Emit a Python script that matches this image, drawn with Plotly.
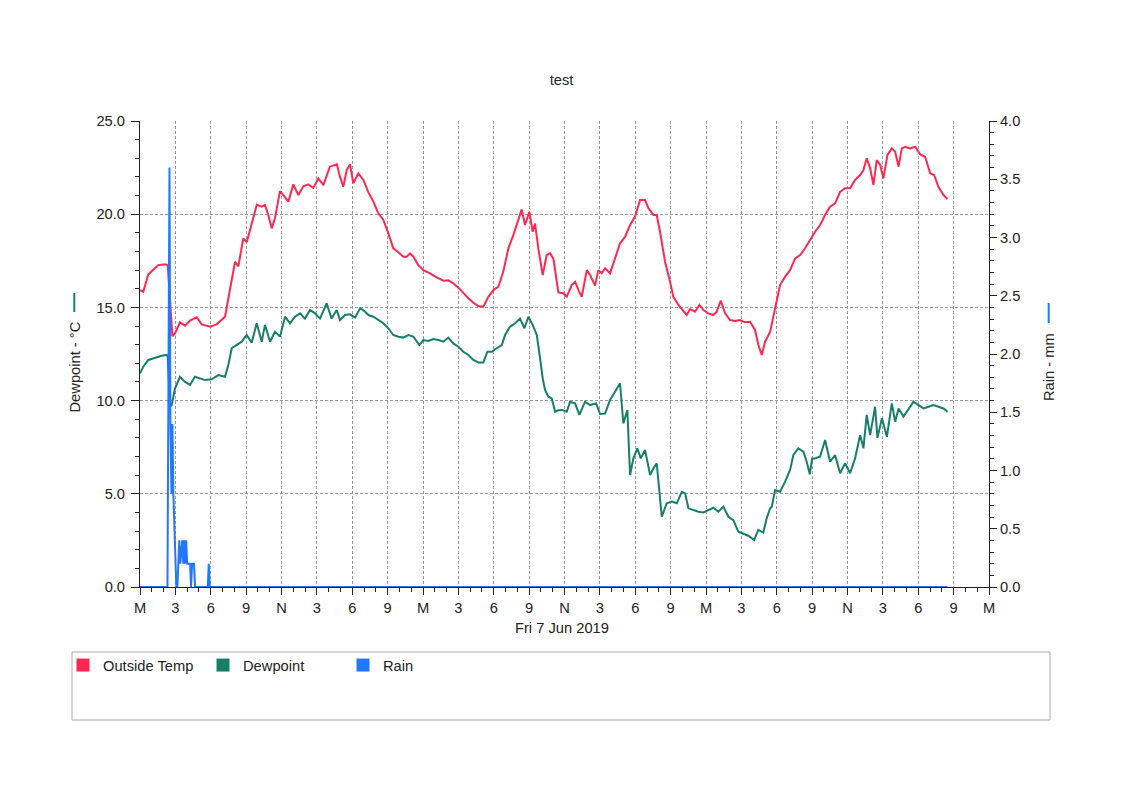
import pandas as pd
import plotly.graph_objects as go

START = pd.Timestamp("2019-06-06 00:00")

# ---- data (hours since start, value) ----
temp_hours = [0.0, 0.28, 0.7, 1.13, 1.55, 1.98, 2.26, 2.35, 2.75, 2.97, 3.39, 3.82, 4.24, 4.81, 5.23,
              5.94, 6.5, 7.21, 7.63, 8.06, 8.34, 8.76, 9.05, 9.47, 9.9, 10.32, 10.6, 10.88, 11.17,
              11.45, 11.87, 12.3, 12.58, 13.0, 13.43, 13.85, 14.28, 14.7, 15.12, 15.55, 16.1, 16.7,
              16.96, 17.24, 17.53, 17.81, 18.09, 18.52, 18.94, 19.37, 19.79, 20.21, 20.64, 21.06,
              21.48, 21.91, 22.33, 22.62, 22.9, 23.18, 23.6, 24.03, 24.6, 25.16, 25.73, 26.15,
              26.57, 27.0, 27.42, 27.85, 28.27, 28.69, 29.12, 29.54, 29.97, 30.39, 30.81, 31.24,
              31.66, 32.09, 32.37, 32.65, 33.02, 33.3, 33.5, 33.78, 34.15, 34.49, 34.78, 35.06,
              35.3, 35.48, 35.9, 36.19, 36.61, 36.9, 37.2, 37.46, 37.89, 38.17, 38.59, 38.87,
              39.16, 39.44, 39.86, 40.29, 40.71, 41.14, 41.56, 41.98, 42.41, 42.83, 43.12, 43.54,
              43.82, 44.1, 44.53, 44.95, 45.23, 45.66, 46.08, 46.36, 46.65, 47.07, 47.44, 47.78,
              48.2, 48.62, 48.91, 49.25, 49.62, 50.04, 50.47, 50.89, 51.31, 51.74, 52.16, 52.44,
              52.73, 53.01, 53.44, 53.86, 54.28, 54.71, 55.13, 55.56, 55.98, 56.4, 56.83, 57.25,
              57.68, 58.1, 58.52, 58.95, 59.37, 59.8, 60.22, 60.64, 61.07, 61.35, 61.63, 61.92,
              62.2, 62.48, 62.77, 63.05, 63.39, 63.76, 64.04, 64.33, 64.61, 64.89, 65.31, 65.74,
              66.16, 66.58, 67.01, 67.35, 67.71, 68.14, 68.48]
temp_values = [15.93, 15.84, 16.77, 17.0, 17.27, 17.3, 17.3, 17.25, 13.45, 13.6, 14.2, 14.02, 14.29,
               14.47, 14.09, 13.97, 14.09, 14.5, 16.0, 17.45, 17.2, 18.7, 18.5, 19.5, 20.5, 20.4,
               20.5, 19.96, 19.24, 19.8, 21.24, 20.9, 20.67, 21.6, 21.03, 21.5, 21.6, 21.4, 21.92,
               21.56, 22.55, 22.68, 22.0, 21.47, 22.37, 22.68, 21.66, 22.19, 21.84, 21.17, 20.67,
               20.05, 19.69, 18.97, 18.17, 17.96, 17.72, 17.72, 17.9, 17.72, 17.27, 17.0, 16.83,
               16.61, 16.43, 16.45, 16.29, 16.06, 15.76, 15.49, 15.25, 15.07, 15.04, 15.57, 15.93,
               16.11, 16.92, 18.17, 18.88, 19.78, 20.26, 19.42, 20.13, 19.06, 19.5, 18.17, 16.74,
               17.81, 17.9, 17.6, 16.5, 15.8, 15.76, 15.57, 16.2, 16.38, 15.9, 15.57, 17.0, 16.74,
               16.17, 17.0, 16.83, 17.1, 16.83, 17.63, 18.44, 18.79, 19.42, 19.87, 20.76, 20.76,
               20.32, 19.96, 19.96, 19.06, 17.45, 16.38, 15.57, 15.13, 14.77, 14.59, 14.91, 14.77,
               15.13, 14.86, 14.68, 14.59, 14.77, 15.36, 14.68, 14.32, 14.27, 14.32, 14.2, 14.23,
               13.79, 12.98, 12.45, 13.16, 13.7, 14.95, 16.2, 16.65, 17.0, 17.63, 17.81, 18.17,
               18.62, 19.06, 19.42, 19.96, 20.4, 20.58, 21.2, 21.39, 21.39, 21.84, 22.1, 22.37,
               23.0, 22.46, 21.57, 22.9, 22.64, 21.92, 23.18, 23.53, 23.35, 22.55, 23.53, 23.62,
               23.53, 23.62, 23.21, 23.08, 22.19, 22.1, 21.47, 21.03, 20.82]

dew_hours = [0.0, 0.28, 0.7, 1.27, 1.84, 2.26, 2.35, 2.54, 2.69, 2.97, 3.39, 3.82, 4.24, 4.66, 5.09,
             5.51, 6.08, 6.64, 7.21, 7.49, 7.78, 8.2, 8.63, 9.05, 9.47, 9.9, 10.32, 10.6, 11.03,
             11.45, 11.87, 12.3, 12.72, 13.14, 13.57, 13.99, 14.42, 14.84, 15.27, 15.83, 16.25,
             16.68, 16.96, 17.39, 17.81, 18.24, 18.66, 18.94, 19.37, 19.79, 20.21, 20.64, 21.06,
             21.48, 21.91, 22.33, 22.76, 23.18, 23.69, 24.03, 24.45, 24.88, 25.3, 25.73, 26.15,
             26.57, 27.0, 27.42, 27.85, 28.27, 28.69, 29.12, 29.46, 29.83, 30.25, 30.68, 30.96,
             31.38, 31.81, 32.23, 32.6, 32.94, 33.3, 33.65, 33.93, 34.15, 34.35, 34.63, 34.92,
             35.2, 35.48, 35.77, 36.19, 36.47, 36.9, 37.26, 37.74, 38.17, 38.68, 39.02, 39.44,
             39.86, 40.29, 40.71, 40.99, 41.33, 41.56, 41.84, 42.18, 42.47, 42.83, 43.26, 43.54,
             43.82, 44.25, 44.67, 45.1, 45.52, 45.95, 46.23, 46.51, 46.93, 47.36, 47.78, 48.2,
             48.62, 49.05, 49.47, 49.9, 50.32, 50.74, 51.17, 51.59, 52.08, 52.44, 52.86, 53.15,
             53.44, 53.58, 53.86, 54.28, 54.71, 55.13, 55.41, 55.83, 56.26, 56.54, 56.8, 57.0,
             57.25, 57.68, 58.1, 58.52, 58.95, 59.37, 59.8, 60.22, 60.64, 61.07, 61.35, 61.63,
             61.92, 62.34, 62.54, 62.92, 63.34, 63.76, 64.04, 64.33, 64.75, 65.18, 65.6, 66.02,
             66.45, 66.87, 67.29, 67.71, 68.14, 68.48]
dew_values = [11.46, 11.82, 12.18, 12.3, 12.41, 12.45, 12.4, 9.67, 9.76, 10.66, 11.28, 11.0, 10.84,
              11.28, 11.2, 11.1, 11.14, 11.37, 11.28, 11.91, 12.81, 12.98, 13.16, 13.52, 13.1,
              14.15, 13.16, 14.06, 13.16, 13.7, 13.43, 14.5, 14.15, 14.5, 14.68, 14.4, 14.86,
              14.68, 14.4, 15.22, 14.4, 14.86, 14.32, 14.59, 14.63, 14.45, 14.95, 14.86, 14.59,
              14.5, 14.32, 14.15, 13.88, 13.52, 13.43, 13.38, 13.52, 13.43, 12.98, 13.25, 13.2,
              13.3, 13.25, 13.16, 13.38, 13.07, 12.89, 12.62, 12.45, 12.18, 12.05, 12.05, 12.62,
              12.62, 12.81, 12.98, 13.52, 13.97, 14.15, 14.4, 13.88, 14.5, 14.06, 13.52, 12.27,
              11.2, 10.57, 10.21, 10.12, 9.4, 9.48, 9.5, 9.4, 9.94, 9.85, 9.23, 9.94, 9.76, 9.85,
              9.28, 9.3, 10.03, 10.48, 10.93, 8.78, 9.5, 6.01, 6.9, 7.44, 6.9, 7.35, 6.01, 6.37,
              6.64, 3.77, 4.49, 4.58, 4.49, 5.11, 5.02, 4.22, 4.13, 4.04, 4.0, 4.13, 4.25, 4.04,
              4.31, 3.77, 3.59, 2.97, 2.88, 2.75, 2.52, 3.06, 2.92, 3.7, 4.22, 4.31, 5.2, 5.11,
              5.65, 6.28, 7.08, 7.44, 7.26, 6.72, 6.05, 6.9, 6.9, 7.0, 7.89, 6.72, 7.08, 6.1, 6.64,
              6.1, 6.9, 8.15, 7.44, 9.23, 8.15, 9.67, 8.0, 9.05, 8.06, 9.85, 8.87, 9.58, 9.14,
              9.58, 9.94, 9.76, 9.58, 9.67, 9.76, 9.67, 9.58, 9.4]

rain_hours = [0.0, 2.33, 2.5, 2.58, 2.67, 2.75, 2.83, 3.08, 3.17, 3.33, 3.42, 3.58, 3.67, 3.75,
              3.83, 3.92, 4.0, 4.08, 4.25, 4.33, 4.42, 4.58, 4.67, 5.75, 5.83, 5.92, 68.48]
rain_values = [0, 0, 3.6, 1.4, 0.8, 1.4, 0.8, 0, 0, 0.4, 0.2, 0.4, 0.2, 0.4,
               0.2, 0.4, 0.2, 0.2, 0.2, 0.0, 0.2, 0.2, 0, 0, 0.2, 0, 0]

x_tick_hours = list(range(0, 73, 3))
x_tick_labels = ["M", "3", "6", "9", "N", "3", "6", "9",
                 "M", "3", "6", "9", "N", "3", "6", "9",
                 "M", "3", "6", "9", "N", "3", "6", "9", "M"]

RED = "#ff2950"
GREEN = "#177f69"
BLUE = "#2277ff"
FONT = "Liberation Sans, Arial, sans-serif"
FS = 14.7


def to_time(hours):
    return list(START + pd.to_timedelta(hours, unit="h"))


fig = go.Figure()
fig.add_trace(go.Scatter(x=to_time(temp_hours), y=temp_values, mode="lines", name="Outside Temp",
                         line=dict(color=RED, width=2), showlegend=False, legendgroup="t"))
fig.add_trace(go.Scatter(x=to_time(dew_hours), y=dew_values, mode="lines", name="Dewpoint",
                         line=dict(color=GREEN, width=2), showlegend=False, legendgroup="d"))
fig.add_trace(go.Scatter(x=to_time(rain_hours), y=rain_values, mode="lines", name="Rain",
                         line=dict(color=BLUE, width=2), yaxis="y2", showlegend=False,
                         legendgroup="r"))
# legend entries with square swatches
for nm, col, grp in [("Outside Temp", RED, "t"), ("Dewpoint", GREEN, "d"), ("Rain", BLUE, "r")]:
    fig.add_trace(go.Scatter(x=[None], y=[None], mode="markers", name=nm, legendgroup=grp,
                             marker=dict(symbol="square", size=13, color=col, line=dict(width=0))))

grid = dict(showgrid=True, gridcolor="#9a9a9a", gridwidth=1, griddash="3px,2px")

fig.update_layout(
    width=1123, height=794,
    margin=dict(l=140, r=134, t=121, b=207),
    paper_bgcolor="white", plot_bgcolor="white",
    font=dict(family=FONT, size=FS, color="#222"),
    title=dict(text="test", x=0.4965, xref="paper", xanchor="center",
               y=1 - 80 / 794, yref="container", yanchor="middle",
               font=dict(family=FONT, size=FS, color="#222")),
    xaxis=dict(
        type="date",
        range=[START, START + pd.Timedelta(hours=72)],
        tickmode="array",
        tickvals=to_time(x_tick_hours),
        ticktext=x_tick_labels,
        ticks="outside", ticklen=7, tickcolor="#222", tickwidth=1,
        showline=True, linecolor="#222", linewidth=1,
        minor=dict(tickmode="linear", tick0=START, dtick=3600000, ticks="outside",
                   ticklen=4, tickcolor="#222", showgrid=False),
        zeroline=False,
        **grid,
    ),
    yaxis=dict(
        range=[0, 25], tick0=0, dtick=5, tickformat=".1f",
        ticks="outside", ticklen=8, tickcolor="#222", ticklabelstandoff=3,
        showline=True, linecolor="#222", linewidth=1,
        minor=dict(dtick=1, ticks="outside", ticklen=4, tickcolor="#222", showgrid=False),
        zeroline=False,
        **grid,
    ),
    yaxis2=dict(
        range=[0, 4], tick0=0, dtick=0.5, tickformat=".1f",
        overlaying="y", side="right",
        ticks="outside", ticklen=7, tickcolor="#222",
        showline=True, linecolor="#222", linewidth=1,
        minor=dict(dtick=0.1, ticks="outside", ticklen=4, tickcolor="#222", showgrid=False),
        showgrid=False, zeroline=False,
    ),
    legend=dict(
        orientation="h", x=(63 - 140) / 849, xanchor="left",
        y=(587 - 649) / 466, yanchor="top",
        bgcolor="rgba(0,0,0,0)", borderwidth=0,
        entrywidth=95, entrywidthmode="pixels",
        itemsizing="trace", font=dict(family=FONT, size=FS, color="#222"),
        traceorder="normal",
    ),
    showlegend=True,
)

# legend frame
fig.add_shape(type="rect", xref="paper", yref="paper",
              x0=(72 - 140) / 849, x1=(1050 - 140) / 849,
              y0=(587 - 652) / 466, y1=(587 - 720) / 466,
              line=dict(color="#aaaaaa", width=1), fillcolor="rgba(0,0,0,0)", layer="below")

# axis titles
fig.add_annotation(text="Dewpoint - °C", xref="paper", yref="paper",
                   x=(74 - 140) / 849, y=(587 - 367.5) / 466, textangle=-90,
                   showarrow=False, xanchor="center", yanchor="middle",
                   font=dict(family=FONT, size=FS, color="#222"))
fig.add_shape(type="line", xref="paper", yref="paper",
              x0=(74.3 - 140) / 849, x1=(74.3 - 140) / 849,
              y0=(587 - 293) / 466, y1=(587 - 312) / 466,
              line=dict(color=GREEN, width=2))
fig.add_annotation(text="Rain - mm", xref="paper", yref="paper",
                   x=(1048.5 - 140) / 849, y=(587 - 367.5) / 466, textangle=-90,
                   showarrow=False, xanchor="center", yanchor="middle",
                   font=dict(family=FONT, size=FS, color="#222"))
fig.add_shape(type="line", xref="paper", yref="paper",
              x0=(1048.7 - 140) / 849, x1=(1048.7 - 140) / 849,
              y0=(587 - 303) / 466, y1=(587 - 323) / 466,
              line=dict(color=BLUE, width=2))
fig.add_annotation(text="Fri 7 Jun 2019", xref="paper", yref="paper",
                   x=(561.5 - 140) / 849, y=(587 - 628) / 466,
                   showarrow=False, xanchor="center", yanchor="middle",
                   font=dict(family=FONT, size=FS, color="#222"))

# the page body has a default 8px margin; remove it so the figure sits at the window origin
fig.write_html("out.html", config={"displayModeBar": False},
               post_script="document.body.style.margin='0';")
